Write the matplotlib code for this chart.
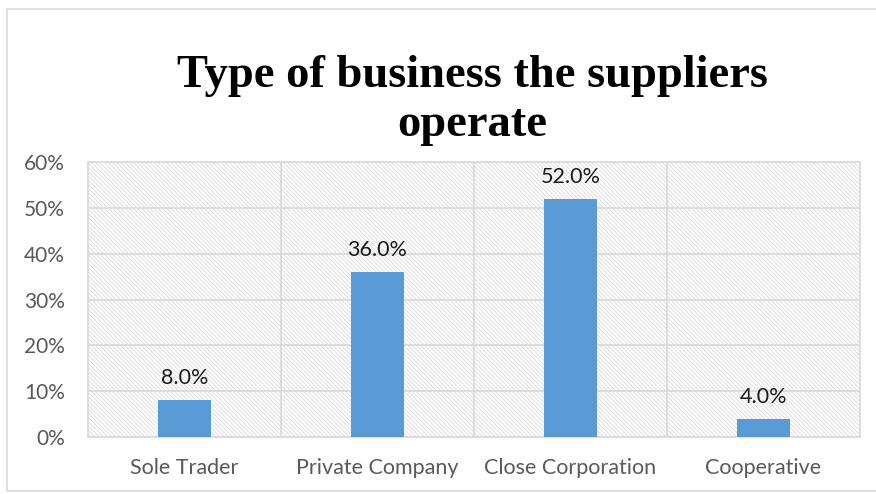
import matplotlib.pyplot as plt
from matplotlib.patches import Rectangle
from matplotlib.ticker import FixedLocator, PercentFormatter

categories = ["Sole Trader", "Private Company", "Close Corporation", "Cooperative"]
shares = [8.0, 36.0, 52.0, 4.0]
y_ticks = [0, 10, 20, 30, 40, 50, 60]

plt.rcParams["hatch.color"] = "#dadada"
plt.rcParams["hatch.linewidth"] = 0.6

fig = plt.figure(figsize=(8.76, 4.94), dpi=100)
fig.patches.append(Rectangle((7 / 876, 3 / 494), 1.0, 1 - 12 / 494,
                             transform=fig.transFigure, fill=False,
                             edgecolor="#d9d9d9", linewidth=1.2))

ax = fig.add_axes([88 / 876, 57 / 494, 772 / 876, 275 / 494])
ax.add_patch(Rectangle((0, 0), 1, 1, transform=ax.transAxes, facecolor="white",
                       hatch="\\" * 8, edgecolor="#dadada", linewidth=0, zorder=0))

x = range(len(categories))
bars = ax.bar(x, shares, width=0.275, color="#5b9bd5", zorder=3)
for b, v in zip(bars, shares):
    ax.text(b.get_x() + b.get_width() / 2, v + 2.6, f"{v:.1f}%", ha="center",
            va="bottom", fontsize=15.5, family="Lato", color="#1a1a1a", zorder=4)

ax.set_xlim(-0.5, len(categories) - 0.5)
ax.set_ylim(0, 60)
ax.set_yticks(y_ticks)
ax.yaxis.set_major_formatter(PercentFormatter(decimals=0))
ax.set_xticks(list(x))
ax.set_xticklabels(categories)
ax.xaxis.set_minor_locator(FixedLocator([0.5, 1.5, 2.5]))

ax.grid(axis="y", which="major", color="#d9d9d9", linewidth=1.2, zorder=1)
ax.grid(axis="x", which="minor", color="#d9d9d9", linewidth=1.2, zorder=1)
ax.set_axisbelow(True)
for s in ax.spines.values():
    s.set_color("#d9d9d9")
    s.set_linewidth(1.2)

ax.tick_params(which="both", length=0)
ax.tick_params(axis="y", pad=16.5, labelsize=15, labelcolor="#595959")
ax.tick_params(axis="x", pad=15, labelsize=15.5, labelcolor="#595959")
for lbl in ax.get_xticklabels() + ax.get_yticklabels():
    lbl.set_family("Lato")

fig.text(0.539, 0.796, "Type of business the suppliers\noperate", ha="center",
         va="center", fontsize=33.5, fontweight="bold", family="Liberation Serif",
         linespacing=1.22)

fig.savefig("out.png", dpi=100)
